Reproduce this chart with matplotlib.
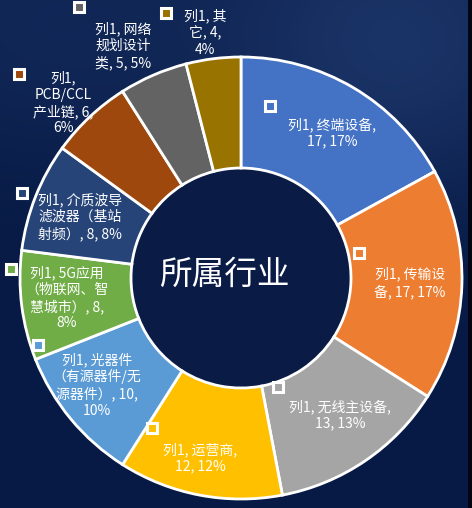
import numpy as np
import matplotlib
matplotlib.use("Agg")
import matplotlib.pyplot as plt

plt.rcParams['font.family'] = ['Noto Sans CJK SC', 'DejaVu Sans']

# ---- data ----
series_name = "列1"
categories = ["终端设备", "传输设备", "无线主设备", "运营商", "光器件（有源器件/无源器件）",
              "5G应用（物联网、智慧城市）", "介质波导滤波器（基站射频）", "PCB/CCL产业链",
              "网络规划设计类", "其它"]
values = [17, 17, 13, 12, 10, 8, 8, 6, 5, 4]
percents = [17, 17, 13, 12, 10, 8, 8, 6, 5, 4]
label_texts = [
    "列1, 终端设备,\n17, 17%",
    "列1, 传输设\n备, 17, 17%",
    "列1, 无线主设备,\n13, 13%",
    "列1, 运营商,\n12, 12%",
    "列1, 光器件\n（有源器件/无\n源器件）, 10,\n10%",
    "列1, 5G应用\n（物联网、智\n慧城市）, 8,\n8%",
    "列1, 介质波导\n滤波器（基站\n射频）, 8, 8%",
    "列1,\nPCB/CCL\n产业链, 6,\n6%",
    "列1, 网络\n规划设计\n类, 5, 5%",
    "列1, 其\n它, 4,\n4%",
]
title = "所属行业"

# ---- styles / layout ----
colors = ["#4472C4", "#ED7D31", "#A5A5A5", "#FFC000", "#5B9BD5",
          "#70AD47", "#264478", "#9E480E", "#636363", "#997300"]
W, H = 472, 508
cx, cy_pix, R, r_in = 241, 278, 221, 110
# label layout positions (pixel coords, top-left origin)
label_pos = [(332, 133), (410, 283), (340, 415), (200, 458), (97, 385),
             (67, 298), (80, 217), (63, 103), (123, 46), (205, 33)]
marker_pos = [(270, 106), (359, 253), (278, 387), (152, 428), (38, 345),
              (11, 269), (22, 193), (19, 74), (79, 7), (166, 13)]

fig = plt.figure(figsize=(W / 100, H / 100), dpi=100)
ax = fig.add_axes([0, 0, 1, 1])
ax.set_xlim(0, W)
ax.set_ylim(0, H)
ax.axis('off')

# background gradient
yy, xx = np.mgrid[0:H, 0:W]
base = np.array([0x07, 0x1a, 0x45]) / 255.0
glow = np.array([0x1a, 0x33, 0x66]) / 255.0
t = np.exp(-(((xx - 400) / 180.0) ** 2 + ((yy - 40) / 160.0) ** 2))
t2 = np.exp(-(((xx - 40) / 200.0) ** 2 + ((yy - 20) / 150.0) ** 2)) * 0.5
tt = np.clip(t + t2, 0, 1)[..., None]
img = base * (1 - tt) + glow * tt
img[:, 468:] = np.array([0x02, 0x06, 0x12]) / 255.0
ax.imshow(img, extent=(0, W, 0, H), origin='upper', zorder=0, aspect='auto')

# inner hole color
hole = plt.Circle((cx, H - cy_pix), r_in, color="#0a1b46", zorder=1)
ax.add_patch(hole)

wedges, _ = ax.pie(values, colors=colors, startangle=90, counterclock=False,
                   center=(cx, H - cy_pix), radius=R, frame=True,
                   wedgeprops=dict(width=R - r_in, edgecolor='white', linewidth=2))
for w in wedges:
    w.set_zorder(2)
ax.set_xlim(0, W)
ax.set_ylim(0, H)
ax.set_aspect('equal')
ax.axis('off')

for txt, (lx, ly), (mx, my), c in zip(label_texts, label_pos, marker_pos, colors):
    ax.text(lx, H - ly, txt, ha='center', va='center', color='white',
            fontsize=10, linespacing=1.2, zorder=4)
    ax.plot([mx], [H - my], marker='s', markersize=6.5, markerfacecolor=c,
            markeredgecolor='white', markeredgewidth=2.2, zorder=5)

ax.text(224, H - 275, title, ha='center', va='center', color='white',
        fontsize=23.5, fontweight='light', zorder=4)

fig.savefig("out.png", dpi=100)
